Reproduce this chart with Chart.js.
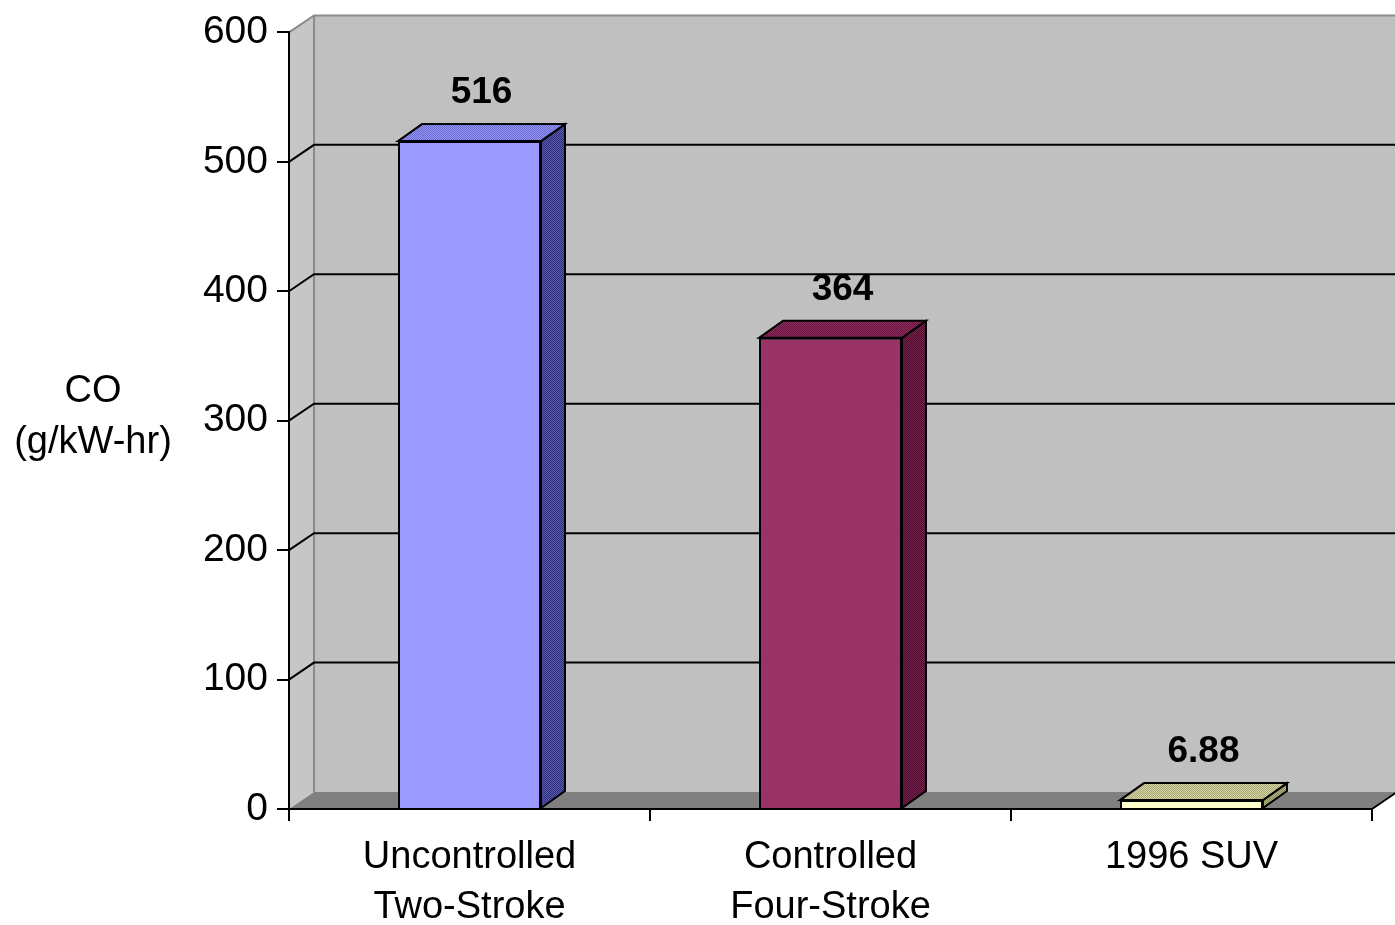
<!DOCTYPE html>
<html>
<head>
<meta charset="utf-8">
<script src="https://cdn.jsdelivr.net/npm/chart.js@4/dist/chart.umd.min.js"></script>
<style>
  html, body { margin: 0; padding: 0; background: #ffffff; overflow: hidden; }
  #wrap { width: 1395px; height: 925px; position: relative; }
</style>
</head>
<body>
<div id="wrap"><canvas id="c" width="1395" height="925"></canvas></div>
<script>
// ---- data ----
const categories = [["Uncontrolled", "Two-Stroke"], ["Controlled", "Four-Stroke"], ["1996 SUV"]];
const coValues = [516, 364, 6.88];
const valueLabels = ["516", "364", "6.88"];
const axisTitleLines = ["CO", "(g/kW-hr)"];
const yMin = 0, yMax = 600, yStep = 100;

// ---- styling ----
const FONT = "'Liberation Sans', Arial, sans-serif";
const frontColors = ["#9999ff", "#993366", "#ffffcc"];
const topColors = [["#9494f4", "#6a6ad0"], ["#8e3060", "#66103c"], ["#d4d4a4", "#a8a878"]];
const sideColors = [["#5a5aa8", "#2e2e80"], ["#7a2450", "#4a0a2a"], ["#b0b080", "#88885a"]];
const wallDepth = { x: 25, y: 17 };
const barDepth = { x: 24, y: 17 };

function checker(c1, c2) {
  const p = document.createElement('canvas');
  p.width = 2; p.height = 2;
  const g = p.getContext('2d');
  g.fillStyle = c1; g.fillRect(0, 0, 2, 2);
  g.fillStyle = c2; g.fillRect(0, 0, 1, 1); g.fillRect(1, 1, 1, 1);
  return document.getElementById('c').getContext('2d').createPattern(p, 'repeat');
}

function poly(ctx, pts, fill, stroke, lw) {
  ctx.beginPath();
  ctx.moveTo(pts[0][0], pts[0][1]);
  for (let i = 1; i < pts.length; i++) ctx.lineTo(pts[i][0], pts[i][1]);
  ctx.closePath();
  if (fill) { ctx.fillStyle = fill; ctx.fill(); }
  if (stroke) { ctx.strokeStyle = stroke; ctx.lineWidth = lw || 1; ctx.stroke(); }
}

// walls, floor and back gridlines of the 3D box, plus bar tops/sides and labels
const box3d = {
  id: 'box3d',
  beforeDraw(chart) {
    const { ctx, chartArea: a, scales: { y } } = chart;
    const dx = wallDepth.x, dy = wallDepth.y;
    const y0 = y.getPixelForValue(yMin), yT = y.getPixelForValue(yMax);
    ctx.save();
    // back wall
    poly(ctx, [[a.left + dx, yT - dy], [a.right + dx + 5, yT - dy], [a.right + dx + 5, y0 - dy], [a.left + dx, y0 - dy]], '#c0c0c0');
    // side wall
    poly(ctx, [[a.left, yT], [a.left + dx, yT - dy], [a.left + dx, y0 - dy], [a.left, y0]], '#c6c6c6');
    // floor
    poly(ctx, [[a.left, y0], [a.left + dx, y0 - dy], [a.right + dx, y0 - dy], [a.right, y0]], '#808080');
    // wall outlines
    ctx.strokeStyle = '#8a8a8a';
    ctx.lineWidth = 2;
    ctx.beginPath();
    ctx.moveTo(a.left, yT); ctx.lineTo(a.left + dx, yT - dy); ctx.lineTo(a.right + dx + 5, yT - dy);
    ctx.moveTo(a.left + dx, yT - dy); ctx.lineTo(a.left + dx, y0 - dy);
    ctx.stroke();
    // gridlines on side and back walls
    ctx.strokeStyle = '#000000';
    ctx.lineWidth = 2;
    ctx.beginPath();
    for (let v = yMin + yStep; v < yMax; v += yStep) {
      const py = y.getPixelForValue(v);
      ctx.moveTo(a.left, py);
      ctx.lineTo(a.left + dx, py - dy);
      ctx.lineTo(a.right + dx + 5, py - dy);
    }
    // floor right edge
    ctx.moveTo(a.right, y0);
    ctx.lineTo(a.right + dx, y0 - dy);
    ctx.stroke();
    ctx.restore();
  },
  afterDatasetsDraw(chart) {
    const { ctx } = chart;
    const dx = barDepth.x, dy = barDepth.y;
    const meta = chart.getDatasetMeta(0);
    ctx.save();
    meta.data.forEach((bar, i) => {
      const x0 = bar.x - bar.width / 2, x1 = bar.x + bar.width / 2;
      const yt = bar.y, yb = bar.base;
      // side face
      poly(ctx, [[x1, yt], [x1 + dx, yt - dy], [x1 + dx, yb - dy], [x1, yb]],
        checker(sideColors[i][0], sideColors[i][1]), '#000000', 2);
      // top face
      poly(ctx, [[x0, yt], [x0 + dx, yt - dy], [x1 + dx, yt - dy], [x1, yt]],
        checker(topColors[i][0], topColors[i][1]), '#000000', 2);
      // value label
      ctx.fillStyle = '#000000';
      ctx.font = 'bold 37px ' + FONT;
      ctx.textAlign = 'center';
      ctx.textBaseline = 'middle';
      ctx.fillText(valueLabels[i], bar.x + dx / 2, yt - dy - 31);
    });
    ctx.restore();
  },
  afterDraw(chart) {
    const { ctx } = chart;
    ctx.save();
    ctx.fillStyle = '#000000';
    ctx.font = '38px ' + FONT;
    ctx.textAlign = 'center';
    ctx.textBaseline = 'middle';
    ctx.fillText(axisTitleLines[0], 93, 392);
    ctx.fillText(axisTitleLines[1], 93, 443);
    ctx.restore();
  }
};

new Chart(document.getElementById('c'), {
  type: 'bar',
  data: {
    labels: categories,
    datasets: [{
      data: coValues,
      backgroundColor: frontColors,
      borderColor: '#000000',
      borderWidth: 2,
      categoryPercentage: 1,
      barPercentage: 0.396
    }]
  },
  options: {
    responsive: false,
    animation: false,
    devicePixelRatio: 1,
    layout: { autoPadding: false, padding: { top: 27, right: 23, bottom: 0, left: 0 } },
    plugins: { legend: { display: false }, tooltip: { enabled: false } },
    scales: {
      x: {
        afterFit(scale) { scale.height = 116; },
        grid: { offset: true, drawOnChartArea: false, drawTicks: true, tickLength: 12, color: '#000000', lineWidth: 2 },
        border: { display: true, color: '#000000', width: 2 },
        ticks: { color: '#000000', padding: 12, maxRotation: 0, autoSkip: false,
          font: { family: FONT, size: 38, lineHeight: 1.3 } }
      },
      y: {
        min: yMin, max: yMax,
        afterFit(scale) { scale.width = 289; },
        grid: { drawOnChartArea: false, drawTicks: true, tickLength: 12, color: '#000000', lineWidth: 2 },
        border: { display: true, color: '#000000', width: 2 },
        ticks: { stepSize: yStep, color: '#000000', padding: 9,
          font: { family: FONT, size: 39 } }
      }
    }
  },
  plugins: [box3d]
});
</script>
</body>
</html>
